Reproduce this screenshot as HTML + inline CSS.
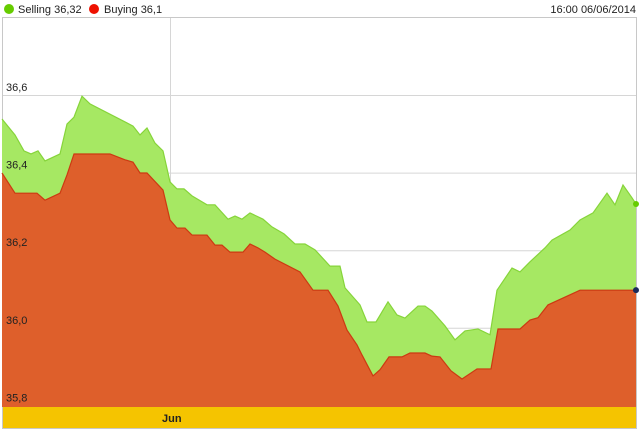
<!DOCTYPE html>
<html><head><meta charset="utf-8"><style>
body{margin:0;background:#fff;width:640px;height:433px;overflow:hidden;font-family:"Liberation Sans",Arial,sans-serif}
svg{display:block}
</style></head><body>
<svg id="chart" width="640" height="433">
  <g>
    <circle cx="9" cy="9" r="5" fill="#66cc00"/>
    <text x="18" y="13" font-size="11" fill="#222">Selling 36,32</text>
    <circle cx="94" cy="9" r="5" fill="#ee1100"/>
    <text x="104" y="13" font-size="11" fill="#222">Buying 36,1</text>
    <text x="636" y="13" font-size="11" fill="#222" text-anchor="end">16:00 06/06/2014</text>
  </g>
  <rect x="2.5" y="17.5" width="634" height="411" fill="none" stroke="#c8c8c8"/>
  <g id="grid"></g>
  <g id="series"></g>
  <rect x="3" y="407" width="633" height="21" fill="#f5c400"/>
  <text x="162" y="422" font-size="11" font-weight="bold" fill="#222">Jun</text>
  <g id="ylabels"></g>
</svg>
<script>
const yTicks=[36.6,36.4,36.2,36.0,35.8];
const yTickLabels=["36,6","36,4","36,2","36,0","35,8"];
const sellTime=[0,13,22,29,36,43,58,65,72,80,88,131,138,145,153,161,168,175,182,190,205,213,226,233,240,248,261,270,282,293,303,313,328,338,343,358,365,374,386,395,403,416,423,430,443,453,463,476,488,495,510,518,528,543,550,568,578,591,605,613,621,630,634];
const sellVals=[36.538,36.497,36.456,36.448,36.456,36.430,36.448,36.525,36.543,36.597,36.577,36.520,36.497,36.515,36.476,36.456,36.376,36.358,36.358,36.340,36.317,36.317,36.280,36.288,36.280,36.296,36.280,36.260,36.242,36.216,36.216,36.201,36.159,36.159,36.103,36.059,36.015,36.015,36.067,36.033,36.025,36.056,36.056,36.043,36.005,35.969,35.992,35.997,35.982,36.097,36.154,36.144,36.170,36.206,36.226,36.252,36.278,36.296,36.347,36.317,36.368,36.335,36.319];
const buyTime=[0,13,35,43,58,65,72,108,123,131,138,145,161,168,175,183,190,205,213,220,228,241,248,256,263,273,298,311,326,336,345,355,360,371,378,387,400,408,423,430,438,449,460,475,489,496,518,528,536,546,568,578,634];
const buyVals=[36.399,36.347,36.347,36.329,36.347,36.394,36.448,36.448,36.433,36.427,36.399,36.399,36.355,36.278,36.257,36.257,36.239,36.239,36.213,36.213,36.195,36.195,36.216,36.206,36.195,36.177,36.144,36.097,36.097,36.056,35.994,35.956,35.930,35.876,35.892,35.925,35.925,35.935,35.935,35.927,35.925,35.889,35.868,35.894,35.894,35.997,35.997,36.020,36.026,36.059,36.085,36.097,36.097];
const NS='http://www.w3.org/2000/svg';
const X0=2,Y36_6=95,PX=77.6/0.2,BOTTOM=407;
function xs(t){return X0+t;}
function ys(v){return Y36_6+(36.6-v)*PX;}
const grid=document.getElementById('grid'),yl=document.getElementById('ylabels'),ser=document.getElementById('series');
yTicks.forEach((v,i)=>{
  if(i<yTicks.length-1){
    const l=document.createElementNS(NS,'line');
    l.setAttribute('x1',3);l.setAttribute('x2',636);
    l.setAttribute('y1',ys(v)+0.5);l.setAttribute('y2',ys(v)+0.5);
    l.setAttribute('stroke','#d6d6d6');
    
    
    grid.appendChild(l);
  }
  const t=document.createElementNS(NS,'text');
  t.setAttribute('x',6);t.setAttribute('y',ys(v)-4);
  t.setAttribute('font-size','11');t.setAttribute('fill','#222');
  t.textContent=yTickLabels[i];
  
  
  yl.appendChild(t);
});
const vl=document.createElementNS(NS,'line');
vl.setAttribute('x1',170.5);vl.setAttribute('x2',170.5);vl.setAttribute('y1',18);vl.setAttribute('y2',407);
vl.setAttribute('stroke','#d6d6d6');


grid.appendChild(vl);
function area(times,vals,fill,stroke,name){
  const pts=times.map((t,i)=>xs(t)+','+ys(vals[i]));
  const p=document.createElementNS(NS,'polygon');
  p.setAttribute('points',xs(times[0])+','+BOTTOM+' '+pts.join(' ')+' '+xs(times[times.length-1])+','+BOTTOM);
  p.setAttribute('fill',fill);
  
  
  ser.appendChild(p);
  const l=document.createElementNS(NS,'polyline');
  l.setAttribute('points',pts.join(' '));
  l.setAttribute('fill','none');l.setAttribute('stroke',stroke);l.setAttribute('stroke-width','1.2');
  
  
  ser.appendChild(l);
}
area(sellTime,sellVals,'#a6e863','#86d43a','selling');
area(buyTime,buyVals,'#de5f2b','#cc3a12','buying');
const d1=document.createElementNS(NS,'circle');
d1.setAttribute('cx',xs(sellTime[sellTime.length-1]));d1.setAttribute('cy',ys(sellVals[sellVals.length-1]));d1.setAttribute('r',3);d1.setAttribute('fill','#66cc00');


ser.appendChild(d1);
const d2=document.createElementNS(NS,'circle');
d2.setAttribute('cx',xs(buyTime[buyTime.length-1]));d2.setAttribute('cy',ys(buyVals[buyVals.length-1]));d2.setAttribute('r',3);d2.setAttribute('fill','#1a2a5a');


ser.appendChild(d2);
</script>
</body></html>
